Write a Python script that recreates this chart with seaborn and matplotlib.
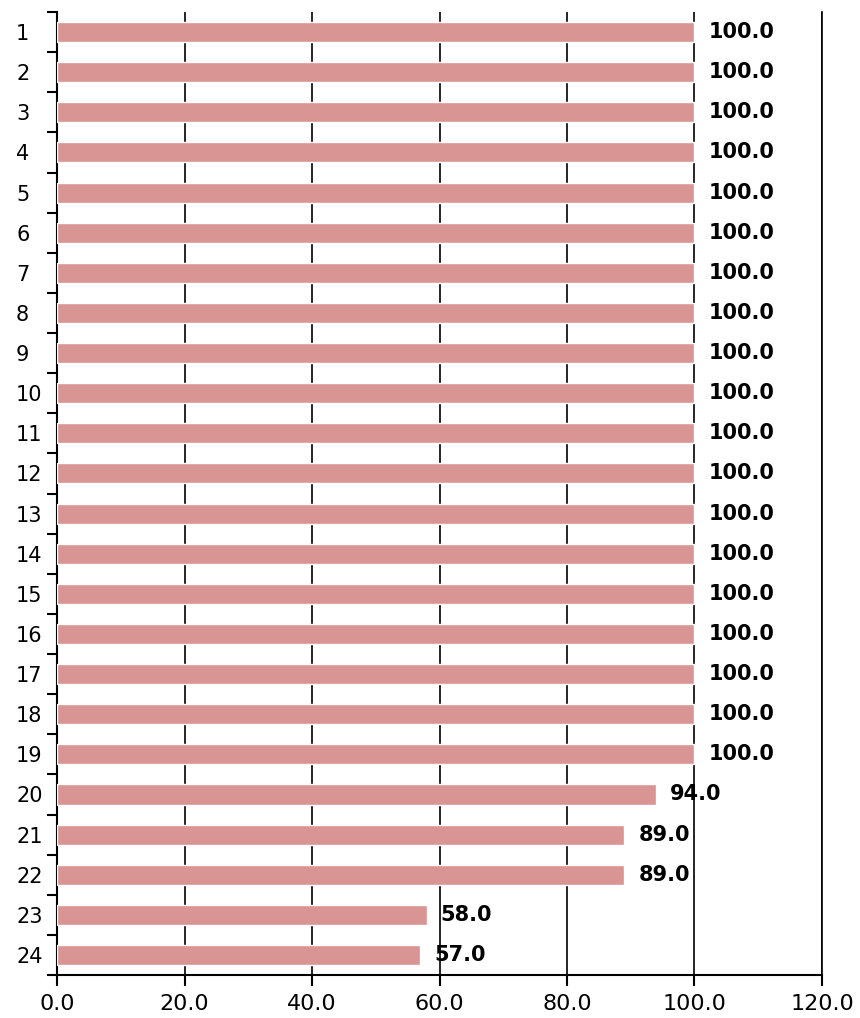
import matplotlib
matplotlib.use("Agg")
import matplotlib.pyplot as plt
import seaborn as sns
import numpy as np
import pandas as pd
from matplotlib.ticker import FixedLocator

# category labels and bar values
categories = [str(i) for i in range(1, 25)]
values = [100.0] * 19 + [94.0, 89.0, 89.0, 58.0, 57.0]
x_ticks = [0, 20, 40, 60, 80, 100, 120]

bar_color = "#D99594"

sns.set_style("white")
plt.rcParams['font.family'] = ['DejaVu Sans']
plt.rcParams['text.color'] = 'black'
plt.rcParams['xtick.color'] = 'black'
plt.rcParams['ytick.color'] = 'black'

df = pd.DataFrame({"category": categories, "value": values})

fig = plt.figure(figsize=(8.6, 10.18), dpi=100)
ax = fig.add_axes([0.0663, 0.0422, 0.8895, 0.946])

sns.barplot(data=df, y="category", x="value", orient="h", color=bar_color,
            saturation=1, width=0.5, ax=ax)

# value labels
for cont in ax.containers:
    ax.bar_label(cont, fmt="%.1f", padding=10, fontsize=15, fontweight="bold",
                 color="black")

ax.set_xlim(0, 120)
ax.set_ylim(len(categories) - 0.5, -0.5)
ax.set_xticks(x_ticks)
ax.set_xticklabels([f"{t:.1f}" for t in x_ticks])
ax.set_xlabel("")
ax.set_ylabel("")

# vertical grid lines, drawn behind the bars
ax.xaxis.grid(True, color="black", linewidth=1.2)
for bar in ax.patches:
    bar.set_zorder(3)

# y ticks between categories, labels left-aligned
ax.yaxis.set_minor_locator(FixedLocator(np.arange(-0.5, len(categories), 1.0)))
ax.tick_params(axis="y", which="major", length=0, labelsize=15, pad=29.5,
               labelcolor="black")
for lbl in ax.get_yticklabels():
    lbl.set_horizontalalignment("left")
ax.tick_params(axis="y", which="minor", length=7, width=1.5, color="black",
               direction="out", left=True)
ax.tick_params(axis="x", which="major", length=8, width=1.5, color="black",
               direction="out", bottom=True, labelsize=16, pad=6,
               labelcolor="black")

ax.spines["top"].set_visible(False)
ax.spines["right"].set_color("black")
ax.spines["right"].set_linewidth(1.2)
for side in ["left", "bottom"]:
    ax.spines[side].set_color("black")
    ax.spines[side].set_linewidth(1.5)

fig.savefig("out.png", dpi=100)
